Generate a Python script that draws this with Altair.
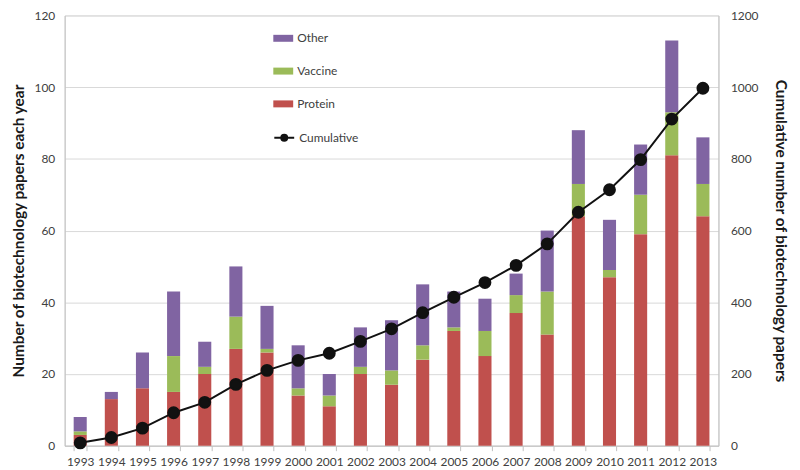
import altair as alt
import pandas as pd

years = [str(y) for y in range(1993, 2014)]
protein = [3, 13, 16, 15, 20, 27, 26, 14, 11, 20, 17, 24, 32, 25, 37, 31, 64, 47, 59, 81, 64]
vaccine = [1, 0, 0, 10, 2, 9, 1, 2, 3, 2, 4, 4, 1, 7, 5, 12, 9, 2, 11, 12, 9]
other = [4, 2, 10, 18, 7, 14, 12, 12, 6, 11, 14, 17, 10, 9, 6, 17, 15, 14, 14, 20, 13]
cumulative = [8, 23, 49, 92, 121, 171, 210, 238, 258, 291, 326, 371, 414, 455, 503, 563, 651, 714, 798, 911, 997]

series = ["Other", "Vaccine", "Protein"]
colors = ["#8064A2", "#9BBB59", "#C0504D"]

rows = []
for i, y in enumerate(years):
    rows.append({"year": y, "series": "Protein", "value": protein[i], "ord": 0})
    rows.append({"year": y, "series": "Vaccine", "value": vaccine[i], "ord": 1})
    rows.append({"year": y, "series": "Other", "value": other[i], "ord": 2})
bars_df = pd.DataFrame(rows)
line_df = pd.DataFrame({"year": years, "cum": cumulative, "name": ["Cumulative"] * len(years)})

FONT = "Lato"
xscale = alt.Scale(paddingInner=0.58, paddingOuter=0.29)
xaxis = alt.Axis(title=None, labelAngle=0, tickBand="extent", labelFont=FONT, labelFontSize=12,
                 labelColor="#404040", domainColor="#BFBFBF", tickColor="#BFBFBF", tickSize=5,
                 labelPadding=6, grid=False)

bars = alt.Chart(bars_df).mark_bar().encode(
    x=alt.X("year:O", scale=xscale, axis=xaxis),
    y=alt.Y("value:Q", stack="zero", scale=alt.Scale(domain=[0, 120], nice=False),
            axis=alt.Axis(title="Number of biotechnology papers each year", values=[0, 20, 40, 60, 80, 100, 120],
                          grid=True, gridColor="#D9D9D9", domainColor="#BFBFBF", ticks=False, format="d",
                          labelFont=FONT, labelFontSize=12, labelColor="#404040", labelPadding=10,
                          titleFont=FONT, titleFontSize=15.5, titleFontWeight="bold", titleColor="#1a1a1a",
                          titlePadding=8)),
    color=alt.Color("series:N", scale=alt.Scale(domain=series, range=colors),
                    legend=alt.Legend(title=None, orient="none", legendX=210, legendY=13,
                                      symbolType="M-1,-0.35H1V0.35H-1Z", symbolSize=400,
                                      symbolStrokeWidth=0, rowPadding=17, labelOffset=4,
                                      labelFont=FONT, labelFontSize=12, labelColor="#404040")),
    order=alt.Order("ord:Q"),
)

line = alt.Chart(line_df).mark_line(color="#111111", strokeWidth=2,
                                    point=alt.OverlayMarkDef(filled=True, size=120, color="#111111")).encode(
    x=alt.X("year:O", scale=xscale),
    y=alt.Y("cum:Q", scale=alt.Scale(domain=[0, 1200], nice=False),
            axis=alt.Axis(title="Cumulative number of biotechnology papers", orient="right", format="d",
                          values=[0, 200, 400, 600, 800, 1000, 1200], grid=False, ticks=False,
                          domainColor="#BFBFBF", labelFont=FONT, labelFontSize=12, labelColor="#404040",
                          labelPadding=12, titleFont=FONT, titleFontSize=15.5, titleFontWeight="bold",
                          titleColor="#1a1a1a", titlePadding=15)),
    stroke=alt.Stroke("name:N", scale=alt.Scale(range=["#111111"]),
                      legend=alt.Legend(title=None, orient="none", legendX=210, legendY=112,
                                        symbolType="M-1,0H1M0.3,0A0.3,0.3 0 1,1 -0.3,0A0.3,0.3 0 1,1 0.3,0Z",
                                        symbolSize=400, symbolStrokeWidth=2, symbolFillColor="#111111",
                                        symbolStrokeColor="#111111", labelOffset=4,
                                        labelFont=FONT, labelFontSize=12, labelColor="#404040")),
)

chart = alt.layer(bars, line).resolve_scale(y="independent", stroke="independent", color="independent").properties(
    width=658, height=433,
    autosize=alt.AutoSizeParams(type="none"),
    padding={"left": 57, "top": 6, "right": 74, "bottom": 30},
).configure_view(stroke=None).configure(background="white")

chart.save("out.html", embed_options={"renderer": "svg", "actions": False})
